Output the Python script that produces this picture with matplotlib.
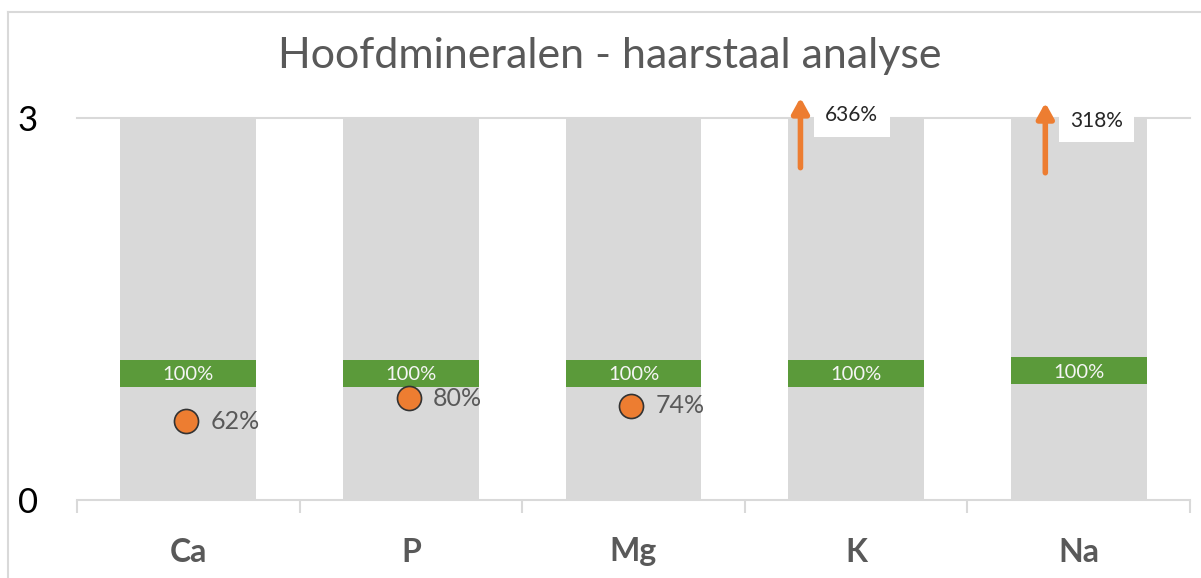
import matplotlib.pyplot as plt
from matplotlib.lines import Line2D

# data
minerals = ["Ca", "P", "Mg", "K", "Na"]
pct = [62, 80, 74, 636, 318]          # analyse resultaat in % van norm
norm_lo = [0.89, 0.89, 0.89, 0.89, 0.91]
norm_hi = [1.10, 1.10, 1.10, 1.10, 1.12]
ymax = 3

grey = "#D9D9D9"
green = "#5B9A3A"
orange = "#ED7D31"
txt = "#595959"

plt.rcParams['font.family'] = ['Lato', 'DejaVu Sans']

fig = plt.figure(figsize=(12.01, 5.78), dpi=100)
W, H = 1201, 578
ax = fig.add_axes([77 / W, (H - 500) / H, (1190 - 77) / W, (500 - 118) / H])

x = list(range(len(minerals)))

# grijze achtergrondkolommen
ax.bar(x, [ymax] * len(x), width=0.61, color=grey, zorder=2)
# normbereik (groen)
ax.bar(x, [h - l for l, h in zip(norm_lo, norm_hi)], bottom=norm_lo,
       width=0.61, color=green, zorder=3)
for i in x:
    ax.text(i, (norm_lo[i] + norm_hi[i]) / 2 - 0.01, "100%", color="#F5F5F5",
            fontsize=14.5, ha="center", va="center", zorder=4)

# arrow placement for values above the axis (layout only)
arrow_dx = {3: -0.25, 4: -0.15}
label_dx = {3: -0.02, 4: 0.08}
label_y = {3: 3.02, 4: 2.98}

for i, p in enumerate(pct):
    v = p / 100
    if v <= ymax:
        ax.scatter(i - 0.01, v, s=300, color=orange, edgecolor="#333333",
                   linewidth=1.2, zorder=5)
        ax.text(i + 0.1, v, f"{p}%", color=txt, fontsize=18,
                ha="left", va="center", zorder=5)
    else:
        ax.annotate("", xy=(i + arrow_dx[i], 3.16 - 0.04 * (i - 3)),
                    xytext=(i + arrow_dx[i], 2.61 - 0.04 * (i - 3)),
                    arrowprops=dict(arrowstyle="-|>,head_length=0.45,head_width=0.25",
                                    lw=4, color=orange, mutation_scale=20,
                                    shrinkA=0, shrinkB=0),
                    annotation_clip=False, zorder=6)
        ax.text(i + label_dx[i], label_y[i], f"{p}%", color="#262626",
                fontsize=15, ha="center", va="center", zorder=6, clip_on=False,
                bbox=dict(boxstyle="square,pad=0.55", fc="white", ec="none"))

ax.axhline(ymax, color=grey, lw=1.5, zorder=1, clip_on=False)

ax.set_xlim(-0.5, len(x) - 0.5)
ax.set_ylim(0, ymax)
ax.set_xticks(x)
ax.set_xticklabels(minerals, fontsize=23, fontweight="bold", color=txt)
ax.set_xticks([i - 0.5 for i in range(len(x) + 1)], minor=True)
ax.tick_params(axis="x", which="major", length=0, pad=27)
ax.tick_params(axis="x", which="minor", length=9, width=1.5, color=grey)
ax.set_yticks([0, ymax])
ax.set_yticklabels(["0", "3"], fontsize=25, color="black")
ax.tick_params(axis="y", length=0, pad=28)

for s in ["top", "right", "left"]:
    ax.spines[s].set_visible(False)
ax.spines["bottom"].set_color(grey)
ax.spines["bottom"].set_linewidth(1.5)

fig.text(610 / W, 1 - 56 / H, "Hoofdmineralen - haarstaal analyse",
         fontsize=31, color=txt, ha="center", va="center")

# chart border
fig.add_artist(Line2D([8 / W, 8 / W], [0, 1 - 12 / H], color=grey, lw=1.5))
fig.add_artist(Line2D([8 / W, 1], [1 - 12 / H, 1 - 12 / H], color=grey, lw=1.5))

fig.savefig("out.png", dpi=100)
